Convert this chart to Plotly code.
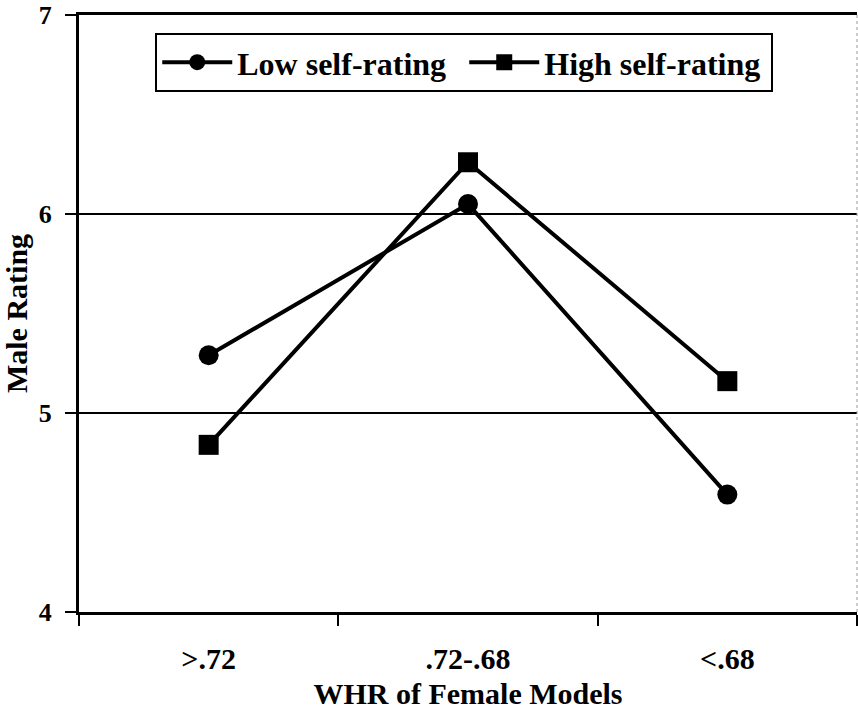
import plotly.graph_objects as go

categories = [">.72", ".72-.68", "<.68"]
low_self = [5.29, 6.05, 4.59]
high_self = [4.84, 6.26, 5.16]
y_ticks = [4, 5, 6, 7]

FONT = "Liberation Serif, Times New Roman, serif"

fig = go.Figure()
fig.add_trace(go.Scatter(
    x=categories, y=low_self, name="Low self-rating", mode="lines+markers",
    line=dict(color="black", width=4),
    marker=dict(symbol="circle", size=20, color="black"),
))
fig.add_trace(go.Scatter(
    x=categories, y=high_self, name="High self-rating", mode="lines+markers",
    line=dict(color="black", width=4),
    marker=dict(symbol="square", size=20, color="black"),
))

fig.update_layout(
    width=858, height=712,
    margin=dict(l=79, r=1, t=15, b=100),
    paper_bgcolor="white", plot_bgcolor="white",
    font=dict(family=FONT, color="black", weight="bold"),
    showlegend=True,
    legend=dict(
        orientation="h", x=0.098, y=0.97, xanchor="left", yanchor="top",
        bordercolor="black", borderwidth=2, bgcolor="white",
        font=dict(size=32, family=FONT, weight="bold"),
        itemwidth=70, entrywidth=222,
    ),
    xaxis=dict(
        type="category", range=[-0.5, 2.5], automargin=False,
        tickson="boundaries", ticks="outside", ticklen=11, tickwidth=2, tickcolor="black",
        showline=True, linecolor="black", linewidth=3, mirror=True,
        showgrid=False, zeroline=False,
        tickfont=dict(size=30, family=FONT, weight="bold"),
        ticklabelstandoff=18,
        title=dict(text="WHR of Female Models", font=dict(size=30, family=FONT, weight="bold"), standoff=9),
    ),
    yaxis=dict(
        range=[4, 7], tickvals=y_ticks, ticktext=[str(v) for v in y_ticks], automargin=False,
        ticks="outside", ticklen=11, tickwidth=2, tickcolor="black",
        showline=True, linecolor="black", linewidth=3,
        showgrid=True, gridcolor="black", gridwidth=2, zeroline=False,
        tickfont=dict(size=26, family=FONT, weight="bold"),
        ticklabelstandoff=8,
        title=dict(text="Male Rating", font=dict(size=30, family=FONT, weight="bold"), standoff=6),
    ),
    shapes=[dict(type="line", xref="paper", yref="paper", x0=1, x1=1, y0=0, y1=1,
                 line=dict(color="#999999", width=1, dash="dot"))],
)

fig.write_html("out.html", config={"displayModeBar": False},
               post_script="document.body.style.margin='0';")
